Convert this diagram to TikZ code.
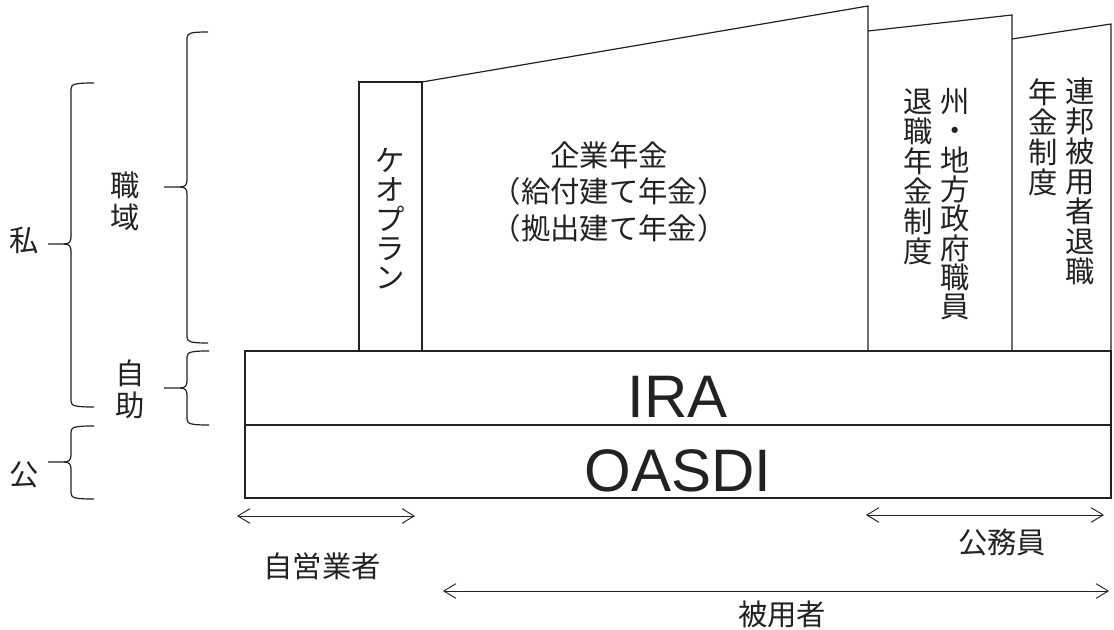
\documentclass[tikz,border=0pt]{standalone}
\usepackage{fontspec}
\setmainfont{Noto Sans CJK JP}
\newfontfamily\latinfont{Liberation Sans}
\usetikzlibrary{arrows.meta}
\definecolor{ink}{HTML}{222222}
\tikzset{
  areabox/.style={draw=ink, line width=0.9pt, line join=miter},
  bracestroke/.style={draw=ink, line width=0.9pt},
  jp/.style={text=ink, inner sep=0pt, font=\fontsize{22}{22.5}\selectfont},
  vtext/.style={jp, align=center, anchor=north},
  big/.style={text=ink, inner sep=0pt, font=\latinfont\fontsize{45}{50}\selectfont},
  dimarrow/.style={draw=ink, line width=0.7pt,
    {Straight Barb[length=9pt,width=11pt]}-{Straight Barb[length=9pt,width=11pt]}},
}
% spine x, arm x, top y, bottom y, middle y, tip x
\newcommand\mybrace[6]{%
  \draw[bracestroke] (#2,#3) .. controls (#1+4,#3) and (#1,#3+1) .. (#1,#3+6)
    -- (#1,#5-7) .. controls (#1,#5-2) and (#1-2,#5) .. (#1-7,#5) -- (#6,#5);
  \draw[bracestroke] (#1-7,#5) .. controls (#1-2,#5) and (#1,#5+2) .. (#1,#5+7)
    -- (#1,#4-6) .. controls (#1,#4-1) and (#1+4,#4) .. (#2,#4);
}
\begin{document}
\begin{tikzpicture}[x=0.75pt,y=-0.75pt]
\useasboundingbox (0,0) rectangle (1114,630);

% pillars
\draw[areabox] (359,351) -- (359,82) -- (422,82) -- (422,351);
\draw[areabox] (422,82) -- (868,6) -- (868,351);
\draw[areabox] (868,31) -- (1012,15) -- (1012,351);
\draw[areabox] (1012,39) -- (1111,24) -- (1111,351);
\draw[areabox] (245,351) rectangle (1111,425);
\draw[areabox] (245,425) rectangle (1111,498);

% braces
\mybrace{71}{94}{83}{407}{244}{48}
\mybrace{187}{208}{32}{343}{187}{164}
\mybrace{187}{209}{351}{425}{388}{164}
\mybrace{71}{94}{426}{499}{462}{48}

% side labels
\node[jp] (shi) at (24,240) {私};
\node[jp, align=center, font=\fontsize{22}{24}\selectfont] (shokuiki) at (125,201) {職\\域};
\node[jp, align=center, font=\fontsize{22}{24}\selectfont] (jijo) at (130,389) {自\\助};
\node[jp] (ko) at (24,475) {公};

% pillar texts
\node[vtext, font=\fontsize{22}{22}\selectfont] (keogh) at (390,148) {ケ\\オ\\プ\\ラ\\ン};
\node[jp, align=center, font=\fontsize{22}{27.4}\selectfont] (corp) at (609,192)
  {企業年金\\（給付建て年金）\\（拠出建て年金）};
\node[vtext, font=\fontsize{22}{22}\selectfont] (state1) at (955,88) {州\\・\\地\\方\\政\\府\\職\\員};
\node[vtext] (state2) at (918,88) {退\\職\\年\\金\\制\\度};
\node[vtext] (fed1) at (1080,78) {連\\邦\\被\\用\\者\\退\\職};
\node[vtext] (fed2) at (1043,78) {年\\金\\制\\度};

\node[big] (ira) at (678,397) {IRA};
\node[big] (oasdi) at (678,471) {OASDI};

% ranges
\coordinate (se1) at (237,516); \coordinate (se2) at (415,516);
\draw[dimarrow] (se1) -- (se2);
\node[jp] (selfemp) at (322,566) {自営業者};

\coordinate (pu1) at (866,515); \coordinate (pu2) at (1104,515);
\draw[dimarrow] (pu1) -- (pu2);
\node[jp] (public) at (1002,542) {公務員};

\coordinate (em1) at (443,591); \coordinate (em2) at (1109,591);
\draw[dimarrow] (em1) -- (em2);
\node[jp] (employee) at (782,614) {被用者};
\end{tikzpicture}
\end{document}
